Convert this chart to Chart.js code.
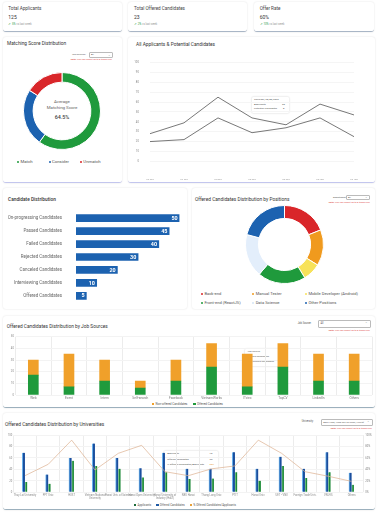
<!DOCTYPE html>
<html><head><meta charset="utf-8">
<script src="https://cdn.jsdelivr.net/npm/chart.js@4.4.1/dist/chart.umd.min.js"></script>
<style>
html,body{margin:0;padding:0;background:#fff;}
#root{position:relative;width:378px;height:512px;overflow:hidden;font-family:Roboto,'Noto Sans',sans-serif;color:#333;}
.card{position:absolute;background:#fff;border-radius:3px;box-shadow:0 0 2px rgba(0,0,0,0.13);box-sizing:border-box;}
.t{position:absolute;white-space:nowrap;line-height:1;}
.title{font-size:4.8px;font-weight:400;color:#333;}
canvas{position:absolute;}
.sel{position:absolute;border:0.5px solid #bbb;border-radius:1px;box-sizing:border-box;font-size:2.4px;color:#555;line-height:1;padding:1.2px 1px;overflow:hidden;white-space:nowrap;background:#fff;}
.sel:after{content:'⌄';position:absolute;right:1.5px;top:0.3px;font-size:3px;color:#777;}
.note{position:absolute;font-size:2.4px;color:#e04a4a;white-space:nowrap;line-height:1;}
.dot{display:inline-block;width:2px;height:2px;border-radius:50%;margin-right:1.4px;vertical-align:middle;}
.sq{display:inline-block;width:2.4px;height:2.4px;margin-right:1.2px;vertical-align:middle;}
.tip{position:absolute;background:#fff;box-shadow:0 0 2px rgba(0,0,0,0.22);border-radius:1px;}
.tt{position:absolute;font-size:2.5px;color:#555;white-space:nowrap;line-height:1;}
</style></head>
<body>
<div id="root">
  <!-- KPI cards -->
  <div class="card" style="left:3px;top:2px;width:119px;height:29.5px;border-bottom:1px solid #a9b6c6;"></div>
  <div class="card" style="left:128px;top:2px;width:119px;height:29.5px;border-bottom:1px solid #a9b6c6;"></div>
  <div class="card" style="left:254px;top:2px;width:119.5px;height:29.5px;border-bottom:1px solid #a9b6c6;"></div>
  <div class="t" style="left:8.3px;top:7px;font-size:4.6px;color:#444;">Total Applicants</div>
  <div class="t" style="left:8.3px;top:14.8px;font-size:5px;color:#333;">125</div>
  <div class="t" style="left:8.3px;top:22.6px;font-size:2.8px;color:#999;"><span style="color:#2e9e4a;">↗ 5%</span> vs last week</div>
  <div class="t" style="left:134px;top:7px;font-size:4.6px;color:#444;">Total Offered Candidates</div>
  <div class="t" style="left:134px;top:14.8px;font-size:5px;color:#333;">23</div>
  <div class="t" style="left:134px;top:22.6px;font-size:2.8px;color:#999;"><span style="color:#2e9e4a;">↗ 2%</span> vs last week</div>
  <div class="t" style="left:259.7px;top:7px;font-size:4.6px;color:#444;">Offer Rate</div>
  <div class="t" style="left:259.7px;top:14.8px;font-size:5px;color:#333;">60%</div>
  <div class="t" style="left:259.7px;top:22.6px;font-size:2.8px;color:#999;"><span style="color:#2e9e4a;">↗ 10%</span> vs last week</div>

  <!-- Row 2 -->
  <div class="card" style="left:3px;top:37px;width:119px;height:146px;border-bottom:1.5px solid #c3c6ee;"></div>
  <div class="card" style="left:128px;top:37px;width:247px;height:146px;border-bottom:1.5px solid #c3c6ee;"></div>
  <div class="t title" style="left:7px;top:41.6px;">Matching Score Distribution</div>
  <div class="t" style="left:72px;top:53.8px;font-size:2.4px;color:#555;">Job Sources:</div>
  <div class="sel" style="left:89px;top:52.3px;width:24px;height:5.4px;">All</div>
  <div class="note" style="right:266px;top:58.8px;"><b>Note:</b> You can select up to 5 items only</div>
  <div class="t" style="left:42px;top:100.4px;width:40px;text-align:center;font-size:4.4px;color:#666;">Average</div>
  <div class="t" style="left:42px;top:105.8px;width:40px;text-align:center;font-size:4.4px;color:#666;">Matching Score</div>
  <div class="t" style="left:42px;top:115px;width:40px;text-align:center;font-size:5.4px;color:#444;font-weight:500;">64.5%</div>
  <div id="lgMatch" class="t" style="left:17px;top:160.2px;font-size:4.3px;color:#555;"></div>

  <div class="t title" style="left:136px;top:42.6px;">All Applicants &amp; Potential Candidates</div>
  <div class="tip" style="left:252px;top:97px;width:37px;height:16px;"></div>
  <div class="tt" style="left:254px;top:99px;">Thursday, 28/08/2025</div>
  <div class="tt" style="left:254px;top:103.5px;">Applicants</div>
  <div class="tt" style="left:282px;top:103.5px;">50</div>
  <div class="tt" style="left:254px;top:108px;">Potential Candidates</div>
  <div class="tt" style="left:283px;top:108px;">8</div>

  <!-- Row 3 -->
  <div class="card" style="left:3px;top:188px;width:184px;height:121px;"></div>
  <div class="card" style="left:192px;top:188px;width:183px;height:121px;"></div>
  <div class="t title" style="left:8px;top:197.8px;font-weight:500;">Candidate Distribution</div>
  <div class="t title" style="left:195px;top:198.3px;">Offered Candidates Distribution by Positions</div>
  <div class="t" style="left:333px;top:196.5px;font-size:2.4px;color:#555;">Department:</div>
  <div class="sel" style="left:346px;top:195px;width:24px;height:5.4px;">All</div>
  <div class="note" style="right:8px;top:202.2px;"><b>Note:</b> You can select up to 5 items only</div>
  <div id="lgPos" style="position:absolute;left:0;top:0;"></div>

  <!-- Row 4 -->
  <div class="card" style="left:3px;top:316px;width:372px;height:92px;border-bottom:1px solid #9cb0bd;"></div>
  <div class="t title" style="left:6.7px;top:325.3px;">Offered Candidates Distribution by Job Sources</div>
  <div class="t" style="left:297.7px;top:323.2px;font-size:2.6px;color:#555;">Job Source:</div>
  <div class="sel" style="left:318px;top:320px;width:52.7px;height:7.7px;font-size:2.6px;padding:2.3px 1.5px;">All</div>
  <div class="note" style="right:8px;top:329.6px;"><b>Note:</b> You can select up to 5 items only</div>
  <div id="lgSrc" class="t" style="left:152px;top:402.6px;font-size:3px;color:#555;"></div>
  <div class="tip" style="left:245px;top:348.5px;width:40px;height:17px;"></div>
  <div class="tt" style="left:247.5px;top:351px;">Job Source</div>
  <div class="tt" style="left:279.5px;top:351px;">36</div>
  <div class="tt" style="left:247.5px;top:356.4px;">Offered Candidates</div>
  <div class="tt" style="left:279.5px;top:356.4px;">12</div>
  <div class="tt" style="left:247.5px;top:361.4px;">Non-offered Candidates</div>
  <div class="tt" style="left:279.5px;top:361.4px;">24</div>

  <!-- Row 5 -->
  <div class="card" style="left:3px;top:413px;width:372px;height:97px;border-bottom:1px solid #9cb0bd;"></div>
  <div class="t title" style="left:5px;top:422.6px;">Offered Candidates Distribution by Universities</div>
  <div class="t" style="left:301.7px;top:421px;font-size:2.6px;color:#555;">University:</div>
  <div class="sel" style="left:320.7px;top:419px;width:52px;height:6.8px;font-size:2.4px;padding:2px 1.5px;padding-right:5px;">Bách Khoa, Khoa học Tự nhiên, Kinh tế</div>
  <div class="note" style="right:6px;top:428px;"><b>Note:</b> You can select up to 5 items only</div>
  <div id="lgUni" class="t" style="left:134px;top:503.6px;font-size:2.9px;color:#555;"></div>
  <div class="tip" style="left:164px;top:450.5px;width:54px;height:18.5px;"></div>
  <div class="tt" style="left:167.3px;top:453px;">Applicants</div>
  <div class="tt" style="left:209.5px;top:453px;">70</div>
  <div class="tt" style="left:167.3px;top:458.7px;">Offered Candidates</div>
  <div class="tt" style="left:209.5px;top:458.7px;">35</div>
  <div class="tt" style="left:167.3px;top:464.4px;">% Offered Candidates/Applicants</div>
  <div class="tt" style="left:209.5px;top:464.4px;color:#e8a13a;">50%</div>
</div>

<script>
// ---------- DATA ----------
const matchLabels = ['Match', 'Consider', 'Unmatch'];
const matchValues = [60, 24, 16];

const lineDates = ['25/08', '26/08', '27/08', '28/08', '29/08', '30/08', '31/08'];
const applicantsSeries = [28, 39, 65, 44, 37, 58, 47];
const potentialSeries = [20, 22, 44, 29, 34, 44, 25];

const candLabels = ['On-progressing Candidates', 'Passed Candidates', 'Failed Candidates', 'Rejected Candidates', 'Canceled Candidates', 'Interviewing Candidates', 'Offered Candidates'];
const candValues = [50, 45, 40, 30, 20, 10, 5];

const positionLabels = ['Back-end', 'Manual Tester', 'Mobile Developer (Android)', 'Front-end (ReactJS)', 'Data Science', 'Other Positions'];
const positionValues = [19, 15, 7.5, 20, 18, 21];

const sourceLabels = ['Web', 'Event', 'Intern', 'Self-search', 'Facebook', 'VietnamWorks', 'ITviec', 'TopCV', 'LinkedIn', 'Others'];
const offeredBySource = [17, 7, 12, 6, 12, 24, 7, 24, 12, 12];
const nonOfferedBySource = [13, 28, 18, 6, 18, 20, 28, 20, 23, 23];

const uniLabels = ['Thuy Loi University', 'FPT Univ.', 'HUST', ['Vietnam National', 'University'], 'Hanoi Univ. of Science', 'Hanoi Open University', ['Hanoi University of', 'Industry (HaUI)'], 'NEU Hanoi', 'Thang Long Univ.', 'PTIT', 'Hanoi Univ.', 'UET - VNU', 'Foreign Trade Univ.', 'VNU-IS', 'Others'];
const uniApplicants = [69, 31, 60, 85, 60, 42, 69, 41, 41, 70, 41, 62, 41, 70, 34];
const uniOffered = [18, 15, 55, 46, 41, 26, 35, 23, 24, 35, 20, 46, 25, 35, 13];
const uniPercent = [29, 49, 91, 39, 68, 82, 36, 29, 41, 46, 91, 68, 36, 28, 19];

// ---------- COLORS ----------
const GREEN = '#1f9a3c', BLUE = '#1c62b0', RED = '#d9262a', ORANGE = '#f09a1e', YELLOW = '#f7e25a', LIGHT = '#e3eefb';
const matchColors = [GREEN, BLUE, RED];
const positionColors = [RED, ORANGE, YELLOW, GREEN, LIGHT, BLUE];

// ---------- SETUP ----------
Chart.defaults.font.family = "Roboto, 'Noto Sans', sans-serif";
Chart.defaults.animation = false;
Chart.defaults.responsive = false;
Chart.defaults.maintainAspectRatio = false;
Chart.defaults.devicePixelRatio = 1;
Chart.defaults.plugins.legend.display = false;
Chart.defaults.plugins.tooltip.enabled = false;

const root = document.getElementById('root');
function mk(l, t, w, h) {
  const c = document.createElement('canvas');
  c.width = w; c.height = h;
  c.style.left = l + 'px'; c.style.top = t + 'px';
  c.style.width = w + 'px'; c.style.height = h + 'px';
  root.appendChild(c);
  return c;
}

// Matching score doughnut
new Chart(mk(23, 72, 78, 78), {
  type: 'doughnut',
  data: { labels: matchLabels, datasets: [{ data: matchValues, backgroundColor: matchColors, borderColor: '#fff', borderWidth: 1 }] },
  options: { cutout: '75%', layout: { padding: 0 } }
});
document.getElementById('lgMatch').innerHTML = matchLabels.map((l, i) =>
  `<span style="margin-right:${i === 0 ? 16 : 11}px"><span class="dot" style="background:${matchColors[i]}"></span>${l}</span>`).join('');

// Line chart
new Chart(mk(128, 50, 240, 130), {
  type: 'line',
  data: {
    labels: lineDates,
    datasets: [
      { label: 'Applicants', data: applicantsSeries, borderColor: '#555', borderWidth: 0.8, pointRadius: 0, tension: 0 },
      { label: 'Potential Candidates', data: potentialSeries, borderColor: '#555', borderWidth: 0.8, pointRadius: 0, tension: 0 }
    ]
  },
  options: {
    layout: { padding: { top: 7.3, right: 12, left: 0, bottom: 0 } },
    scales: {
      x: { grid: { display: false }, border: { display: false },
           ticks: { font: { size: 3 }, color: '#888', padding: 10 },
           afterFit: s => { s.height = 18.7; } },
      y: { min: 0, max: 100, ticks: { stepSize: 10, font: { size: 2.8 }, color: '#888', padding: 11 },
           grid: { color: '#f5f5f5', drawTicks: false }, border: { display: false },
           afterFit: s => { s.width = 22; } }
    }
  }
});

// Candidate distribution horizontal bars
const barLabelPlugin = {
  id: 'barLabels',
  afterDatasetsDraw(chart) {
    const ctx = chart.ctx;
    const meta = chart.getDatasetMeta(0);
    ctx.save();
    ctx.fillStyle = '#fff';
    ctx.font = "bold 5.4px Roboto, 'Noto Sans', sans-serif";
    ctx.textAlign = 'right';
    ctx.textBaseline = 'middle';
    meta.data.forEach((el, i) => {
      ctx.fillText(String(chart.data.datasets[0].data[i]), el.x - 1.8, el.y + 0.3);
    });
    ctx.restore();
  }
};
new Chart(mk(3, 203, 182, 108), {
  type: 'bar',
  data: { labels: candLabels, datasets: [{ data: candValues, backgroundColor: BLUE, barThickness: 7 }] },
  options: {
    indexAxis: 'y',
    layout: { padding: { top: 3, bottom: 3.5, right: 5.5, left: 0 } },
    scales: {
      x: { display: false, min: 0, max: 50 },
      y: { grid: { display: false }, border: { display: false },
           ticks: { font: { size: 4.5 }, color: '#666', padding: 6 },
           afterFit: s => { s.width = 73; } }
    }
  },
  plugins: [barLabelPlugin]
});

// Positions doughnut
new Chart(mk(245, 205, 79, 79), {
  type: 'doughnut',
  data: { labels: positionLabels, datasets: [{ data: positionValues, backgroundColor: positionColors, borderColor: '#fff', borderWidth: 1 }] },
  options: { cutout: '67%' }
});
(function () {
  const xs = [201, 252.3, 305], ys = [292, 300.6];
  document.getElementById('lgPos').innerHTML = positionLabels.map((l, i) => {
    const col = positionColors[i] === LIGHT ? '#d5e4f5' : positionColors[i];
    return `<div class="t" style="left:${xs[i % 3]}px;top:${ys[Math.floor(i / 3)]}px;font-size:4.1px;color:#555;"><span class="dot" style="background:${col}"></span>${l}</div>`;
  }).join('');
})();

// Job sources stacked bars
new Chart(mk(3, 332, 371, 70), {
  type: 'bar',
  data: {
    labels: sourceLabels,
    datasets: [
      { label: 'Offered Candidates', data: offeredBySource, backgroundColor: GREEN, barThickness: 10 },
      { label: 'Non-offered Candidates', data: nonOfferedBySource, backgroundColor: '#f0a02a', barThickness: 10 }
    ]
  },
  options: {
    layout: { padding: { top: 4.7, right: 2, left: 0, bottom: 0 } },
    scales: {
      x: { stacked: true, grid: { color: '#ececec', drawTicks: false }, border: { display: false },
           ticks: { font: { size: 3.2 }, color: '#777', padding: 1.2 },
           afterFit: s => { s.height = 7; } },
      y: { stacked: true, min: 0, max: 50, ticks: { stepSize: 5, font: { size: 2.8 }, color: '#888', padding: 1.5 },
           grid: { color: '#f3f3f3', drawTicks: false }, border: { display: false },
           afterFit: s => { s.width = 12.5; } }
    }
  }
});
document.getElementById('lgSrc').innerHTML =
  `<span style="margin-right:6px"><span class="sq" style="background:#f0a02a"></span>Non-offered Candidates</span><span><span class="sq" style="background:${GREEN}"></span>Offered Candidates</span>`;

// Universities mixed chart
new Chart(mk(3, 431, 372, 72), {
  data: {
    labels: uniLabels,
    datasets: [
      { type: 'line', label: '% Offered Candidates/Applicants', data: uniPercent, yAxisID: 'y1', borderColor: '#dcb08f', borderWidth: 0.7, pointRadius: 0, tension: 0 },
      { type: 'bar', label: 'Applicants', data: uniApplicants, yAxisID: 'y', backgroundColor: '#1b4f9e', borderColor: '#6fb8f0', borderWidth: { left: 1, right: 0, top: 0, bottom: 0 }, borderSkipped: false, barThickness: 2.7 },
      { type: 'bar', label: 'Offered Candidates', data: uniOffered, yAxisID: 'y', backgroundColor: '#1e8a38', borderColor: '#92d692', borderWidth: { left: 1, right: 0, top: 0, bottom: 0 }, borderSkipped: false, barThickness: 2.3 }
    ]
  },
  options: {
    layout: { padding: { top: 4, right: 0, left: 0, bottom: 0 } },
    scales: {
      x: { grid: { color: '#ececec', drawTicks: false, offset: true }, border: { display: false },
           ticks: { font: { size: 2.7 }, color: '#888', padding: 1.5, maxRotation: 0, autoSkip: false },
           afterFit: s => { s.height = 10.7; } },
      y: { position: 'left', min: 0, max: 100, ticks: { stepSize: 10, font: { size: 2.7 }, color: '#888', padding: 1 },
           grid: { color: '#f3f3f3', drawTicks: false }, border: { display: false },
           afterFit: s => { s.width = 10.3; } },
      y1: { position: 'right', min: 0, max: 100, ticks: { stepSize: 10, font: { size: 2.7 }, color: '#888', padding: 2, callback: v => v + '%' },
            grid: { display: false, drawTicks: false }, border: { display: false },
            afterFit: s => { s.width = 11.7; } }
    }
  }
});
document.getElementById('lgUni').innerHTML =
  `<span style="margin-right:5px"><span class="sq" style="background:#1d6b3a"></span>Applicants</span><span style="margin-right:5px"><span class="sq" style="background:#1f5aa6"></span>Offered Candidates</span><span><span class="sq" style="background:#e8a13a"></span>% Offered Candidates/Applicants</span>`;
</script>
</body></html>
